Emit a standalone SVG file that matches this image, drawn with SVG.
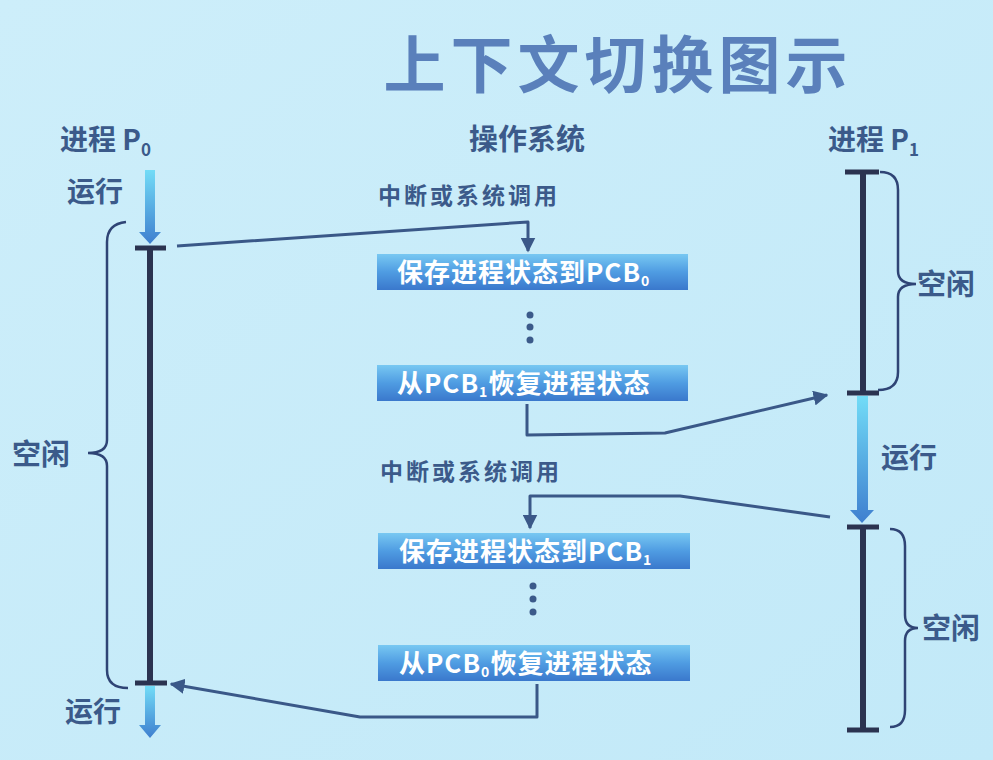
<svg xmlns="http://www.w3.org/2000/svg" width="993" height="760" viewBox="0 0 993 760">
<defs>
<linearGradient id="bg" x1="0" y1="0" x2="1" y2="1">
<stop offset="0" stop-color="#cdeefa"/>
<stop offset="1" stop-color="#c2e9f8"/>
</linearGradient>
<linearGradient id="run" x1="0" y1="0" x2="0" y2="1">
<stop offset="0" stop-color="#72dcf7"/>
<stop offset="1" stop-color="#3f7fcf"/>
</linearGradient>
<linearGradient id="box" x1="0" y1="0" x2="0" y2="1">
<stop offset="0" stop-color="#78c8f2"/>
<stop offset="0.5" stop-color="#4f9ce2"/>
<stop offset="1" stop-color="#3a78cc"/>
</linearGradient>
<marker id="ah" viewBox="0 0 10 10" refX="9" refY="5" markerWidth="5" markerHeight="5" orient="auto" markerUnits="strokeWidth">
<path d="M0,0 L10,5 L0,10 z" fill="#3a5888"/>
</marker>
<style>
.t{font-family:"Noto Sans CJK SC","Noto Sans",sans-serif;font-weight:bold;fill:#3b5a8a}
.bt{font-family:"Noto Sans CJK SC","Noto Sans",sans-serif;font-weight:bold;fill:#ffffff;font-size:26px;letter-spacing:1px}
.bar{stroke:#2b3350;fill:none}
.brace{stroke:#2f4475;stroke-width:2.5;fill:none}
.conn{stroke:#3a5888;stroke-width:3;fill:none;stroke-linejoin:round}
.dot{fill:#3b5a8a}
</style>
</defs>
<rect width="993" height="760" fill="url(#bg)"/>
<text x="618" y="88" text-anchor="middle" class="t" style="font-size:62px;letter-spacing:5px;fill:#5a80bb">上下文切换图示</text>

<g id="p0-header"><text x="60" y="150" class="t" font-size="28">进程 P<tspan font-size="17" dy="6">0</tspan></text></g>
<g id="os-header"><text x="527" y="150" text-anchor="middle" class="t" font-size="29">操作系统</text></g>
<g id="p1-header"><text x="828" y="150" class="t" font-size="28">进程 P<tspan font-size="17" dy="6">1</tspan></text></g>

<g id="p0-timeline">
<path d="M145,170 H155 V232 H161 L150,244 L139,232 H145 Z" fill="url(#run)"/>
<text x="67" y="202" class="t" font-size="28">运行</text>
<line x1="135" y1="248" x2="166" y2="248" class="bar" stroke-width="5"/>
<line x1="150" y1="248" x2="150" y2="683" class="bar" stroke-width="6"/>
<line x1="135" y1="683" x2="167" y2="683" class="bar" stroke-width="5"/>
<path d="M145,686 H155 V725 H161 L150,738 L139,725 H145 Z" fill="url(#run)"/>
<text x="65" y="722" class="t" font-size="28">运行</text>
<path d="M126,222 Q107,224 107,242 L107,440 Q107,453 88,453 Q107,453 107,466 L107,670 Q107,688 128,688" class="brace"/>
<text x="12" y="465" class="t" font-size="29">空闲</text>
</g>

<g id="p1-timeline">
<line x1="845" y1="172" x2="879" y2="172" class="bar" stroke-width="5"/>
<line x1="863" y1="172" x2="863" y2="393" class="bar" stroke-width="6"/>
<line x1="847" y1="393" x2="879" y2="393" class="bar" stroke-width="5"/>
<path d="M880,172 Q898,172 898,190 L898,271 Q898,284 916,284 Q898,284 898,297 L898,372 Q898,390 878,390" class="brace"/>
<text x="917" y="295" class="t" font-size="29">空闲</text>
<path d="M857,396 H868 V510 H874 L862,523 L850,510 H857 Z" fill="url(#run)"/>
<text x="881" y="468" class="t" font-size="28">运行</text>
<line x1="847" y1="527" x2="879" y2="527" class="bar" stroke-width="5"/>
<line x1="863" y1="527" x2="863" y2="730" class="bar" stroke-width="6"/>
<line x1="847" y1="730" x2="879" y2="730" class="bar" stroke-width="5"/>
<path d="M890,529 Q905,529 905,546 L905,615 Q905,628 918,628 Q905,628 905,641 L905,710 Q905,727 890,727" class="brace"/>
<text x="922" y="639" class="t" font-size="29">空闲</text>
</g>

<g id="os-first">
<text x="378" y="204" class="t" font-size="23" style="letter-spacing:3px">中断或系统调用</text>
<rect x="377" y="254" width="311" height="36" fill="url(#box)"/>
<text x="397" y="282" class="bt">保存进程状态到PCB<tspan font-size="14" dy="4">0</tspan></text>
<circle cx="530" cy="315" r="3.5" class="dot"/>
<circle cx="530" cy="327" r="3.5" class="dot"/>
<circle cx="530" cy="340" r="3.5" class="dot"/>
<rect x="377" y="365" width="311" height="36" fill="url(#box)"/>
<text x="397" y="393" class="bt">从PCB<tspan font-size="14" dy="4">1</tspan><tspan dy="-4">恢复进程状态</tspan></text>
</g>

<g id="os-second">
<text x="380" y="480" class="t" font-size="23" style="letter-spacing:3px">中断或系统调用</text>
<rect x="378" y="533" width="312" height="36" fill="url(#box)"/>
<text x="399" y="561" class="bt">保存进程状态到PCB<tspan font-size="14" dy="4">1</tspan></text>
<circle cx="533" cy="586" r="3.5" class="dot"/>
<circle cx="533" cy="599" r="3.5" class="dot"/>
<circle cx="533" cy="612" r="3.5" class="dot"/>
<rect x="378" y="645" width="312" height="36" fill="url(#box)"/>
<text x="399" y="673" class="bt">从PCB<tspan font-size="14" dy="4">0</tspan><tspan dy="-4">恢复进程状态</tspan></text>
</g>

<g id="connectors">
<polyline points="177,246 528,222 528,251" class="conn" marker-end="url(#ah)"/>
<polyline points="527,404 527,435 665,433 827,395" class="conn" marker-end="url(#ah)"/>
<polyline points="830,517 680,496 530,496 530,528" class="conn" marker-end="url(#ah)"/>
<polyline points="537,684 537,717 360,717 171,684" class="conn" marker-end="url(#ah)"/>
</g>
</svg>
